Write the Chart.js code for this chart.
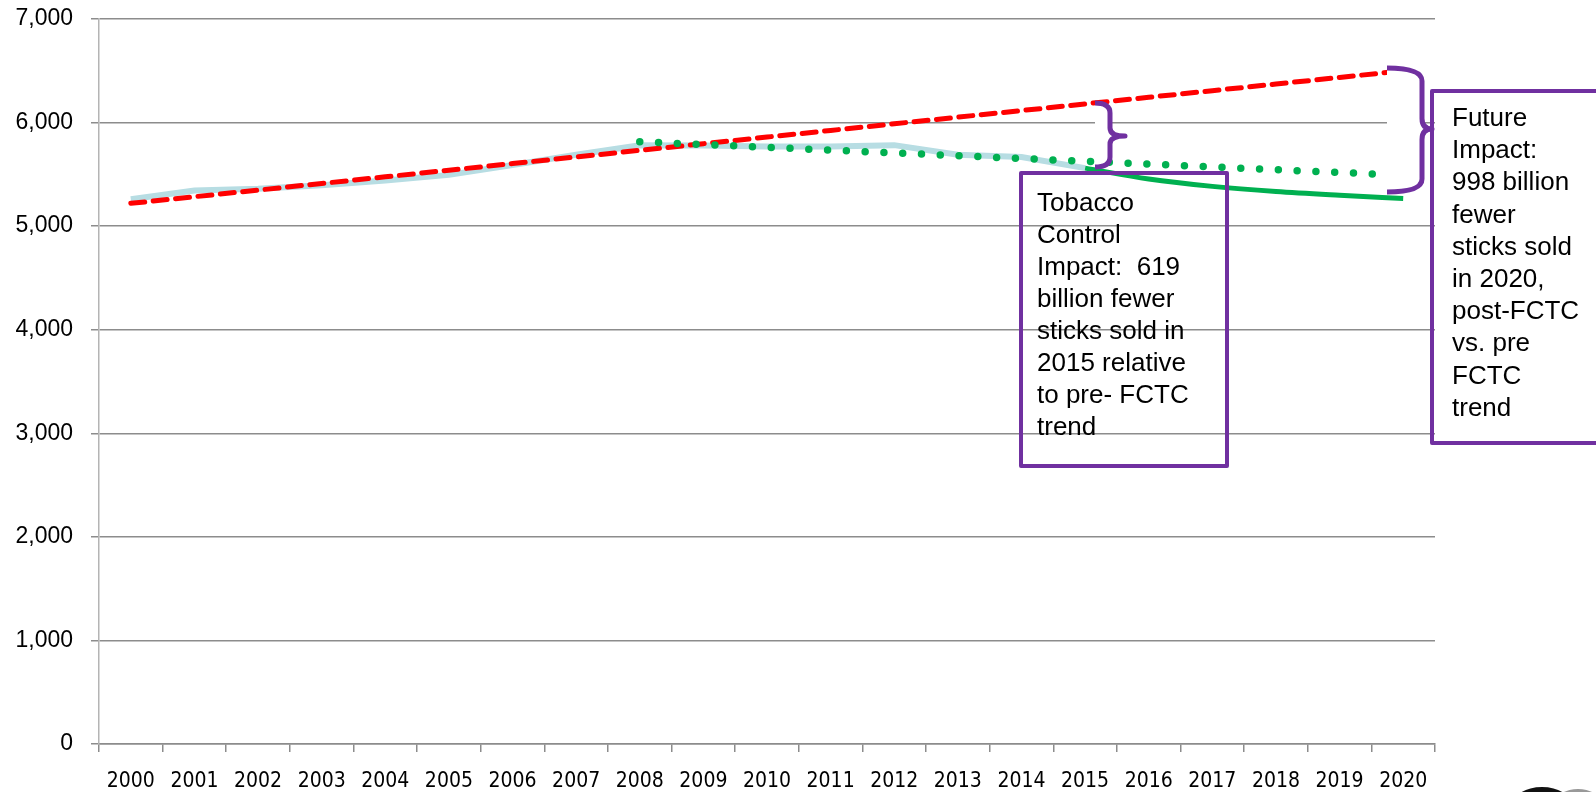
<!DOCTYPE html>
<html>
<head>
<meta charset="utf-8">
<script src="https://cdn.jsdelivr.net/npm/chart.js@4.4.1/dist/chart.umd.min.js"></script>
<style>
  html, body { margin: 0; padding: 0; background: #fff; }
  #wrap { width: 1596px; height: 792px; }
</style>
</head>
<body>
<div id="wrap"><canvas id="salesChart" width="1596" height="792"></canvas></div>
<script>
// ---- data (billions of sticks) ----
const years = ['2000', '2001', '2002', '2003', '2004', '2005', '2006', '2007', '2008', '2009', '2010',
               '2011', '2012', '2013', '2014', '2015', '2016', '2017', '2018', '2019', '2020'];
const actualSales    = [5260, 5345, 5360, 5395, 5440, 5495, 5590, 5690, 5780, 5778, 5770,
                        5768, 5782, 5690, 5668, 5560, null, null, null, null, null];
const preFctcTrend   = [5220, 5284, 5348, 5412, 5476, 5540, 5604, 5668, 5732, 5796, 5860,
                        5924, 5988, 6052, 6116, 6180, 6244, 6308, 6372, 6436, 6500];
const postFctcTrend  = [null, null, null, null, null, null, null, null, 5815, 5788, 5761,
                        5734, 5707, 5680, 5653, 5626, 5599, 5572, 5545, 5518, 5491];
const projectedSales = [null, null, null, null, null, null, null, null, null, null, null,
                        null, null, null, null, 5560, 5455, 5384, 5334, 5298, 5267];
const yTickLabels = ['0', '1,000', '2,000', '3,000', '4,000', '5,000', '6,000', '7,000'];

const tobaccoNote = ['Tobacco', 'Control', 'Impact:  619', 'billion fewer', 'sticks sold in',
                     '2015 relative', 'to pre- FCTC', 'trend'];
const futureNote  = ['Future', 'Impact:', '998 billion', 'fewer', 'sticks sold', 'in 2020,',
                     'post-FCTC', 'vs. pre', 'FCTC', 'trend'];

const purple = '#7030a0';
const gridGrey = '#8c8c8c';

// right brace "}" with white fill, like the Excel shape
const drawBrace = (ctx, tipX, vertX, pointX, top, bottom, mid, r) => {
    const path = new Path2D();
    path.moveTo(tipX, top);
    path.quadraticCurveTo(vertX, top, vertX, top + r);
    path.lineTo(vertX, mid - r * 0.8);
    path.quadraticCurveTo(vertX, mid, pointX, mid);
    path.quadraticCurveTo(vertX, mid, vertX, mid + r * 0.8);
    path.lineTo(vertX, bottom - r);
    path.quadraticCurveTo(vertX, bottom, tipX, bottom);
    const fill = new Path2D(path);
    fill.closePath();
    ctx.fillStyle = '#fff';
    ctx.fill(fill);
    ctx.strokeStyle = purple;
    ctx.lineWidth = 5;
    ctx.lineJoin = 'round';
    ctx.stroke(path);
};

const drawNote = (ctx, lines, x, firstY, step) => {
    ctx.fillStyle = '#000';
    ctx.font = '26px "Liberation Sans", Arial, sans-serif';
    ctx.textAlign = 'left';
    ctx.textBaseline = 'alphabetic';
    lines.forEach((t, i) => ctx.fillText(t, x, firstY + i * step + 9));
};

const annotations = {
    id: 'annotations',
    afterDatasetsDraw(chart) {
        const ctx = chart.ctx;
        ctx.save();
        drawBrace(ctx, 1095, 1110, 1125, 103, 167, 136, 10);
        drawBrace(ctx, 1387, 1422, 1432, 68, 192, 129, 13);

        ctx.strokeStyle = purple;
        ctx.lineWidth = 4;
        ctx.strokeRect(1021, 173, 206, 293);
        ctx.strokeRect(1432, 91, 200, 352);

        drawNote(ctx, tobaccoNote, 1037, 202, 32);
        drawNote(ctx, futureNote, 1452, 117, 32.2);

        // cut-off dark shape at the bottom right corner
        ctx.fillStyle = '#999';
        ctx.beginPath();
        ctx.ellipse(1578, 802, 22, 13, 0, 0, Math.PI * 2);
        ctx.fill();
        ctx.fillStyle = '#111';
        ctx.beginPath();
        ctx.ellipse(1542, 806, 30, 19, 0, 0, Math.PI * 2);
        ctx.fill();
        ctx.restore();
    }
};

const initChart = () => {
    const ctx = document.getElementById('salesChart');
    new Chart(ctx, {
        type: 'line',
        data: {
            labels: years,
            datasets: [
                {
                    label: 'Post-FCTC trend', data: postFctcTrend,
                    borderColor: '#00b050', borderWidth: 7.5, borderDash: [0, 18.8],
                    borderCapStyle: 'round', pointRadius: 0, tension: 0
                },
                {
                    label: 'Pre-FCTC trend', data: preFctcTrend,
                    borderColor: '#ff0000', borderWidth: 5, borderDash: [14, 8.5],
                    borderCapStyle: 'round', pointRadius: 0, tension: 0
                },
                {
                    label: 'Projected', data: projectedSales,
                    borderColor: '#00b050', borderWidth: 5, pointRadius: 0,
                    cubicInterpolationMode: 'monotone'
                },
                {
                    label: 'Actual', data: actualSales,
                    borderColor: '#b7dde3', borderWidth: 6, pointRadius: 0, tension: 0
                }
            ]
        },
        options: {
            responsive: false, animation: false, devicePixelRatio: 1,
            layout: { padding: { top: 19, right: 161, left: 0, bottom: 0 } },
            scales: {
                x: {
                    offset: true,
                    grid: { offset: true, drawOnChartArea: false, drawTicks: true, tickLength: 8, color: gridGrey, lineWidth: 1.5 },
                    border: { color: gridGrey, width: 1.5 },
                    ticks: {
                        color: '#000', padding: 17, maxRotation: 0, autoSkip: false,
                        font: { family: '"DejaVu Sans Condensed", "Liberation Sans Narrow", "DejaVu Sans", sans-serif', size: 21 }
                    },
                    afterFit: (scale) => { scale.height = 48; scale.paddingLeft = 0; scale.paddingRight = 0; }
                },
                y: {
                    min: 0, max: 7000,
                    grid: { color: gridGrey, lineWidth: 1.5, tickLength: 8 },
                    border: { color: '#b4b4b4', width: 1.5 },
                    ticks: {
                        stepSize: 1000, color: '#000', padding: 18,
                        font: { family: '"Liberation Sans", Arial, sans-serif', size: 23 },
                        callback: (v, i) => yTickLabels[i]
                    },
                    afterFit: (scale) => { scale.width = 99; scale.paddingTop = 0; scale.paddingBottom = 0; }
                }
            },
            plugins: { legend: { display: false }, tooltip: { enabled: false } }
        },
        plugins: [annotations]
    });
};

document.addEventListener('DOMContentLoaded', initChart);
</script>
</body>
</html>
